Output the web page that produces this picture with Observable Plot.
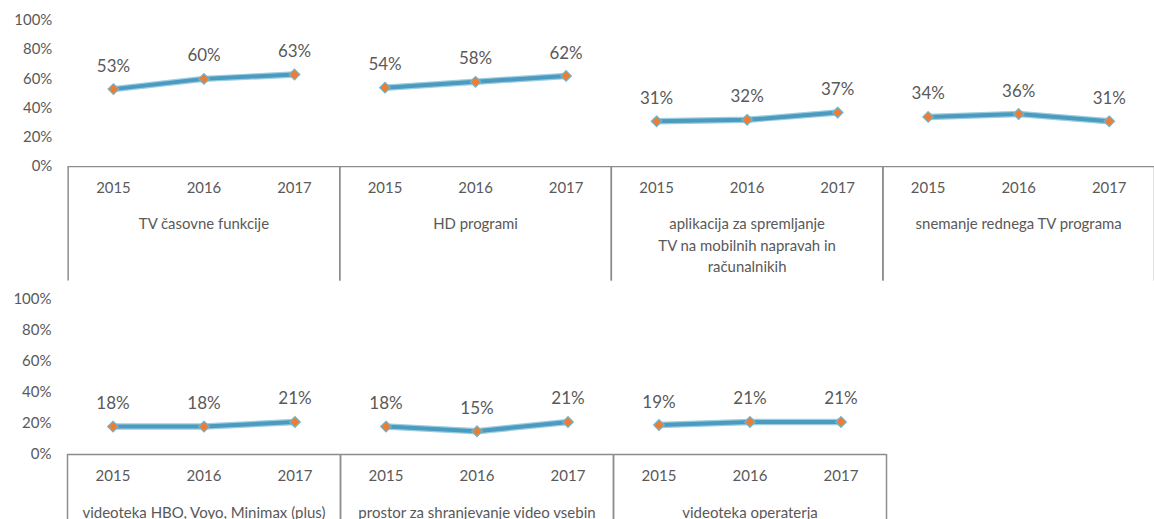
<!DOCTYPE html>
<html>
<head>
<meta charset="utf-8">
<script src="https://cdn.jsdelivr.net/npm/d3@7"></script>
<script src="https://cdn.jsdelivr.net/npm/@observablehq/plot@0.6"></script>
<style>
  html, body { margin: 0; padding: 0; background: #fff; overflow: hidden; }
  #chart svg { display: block; }
</style>
</head>
<body>
<div id="chart"></div>
<script>
const years = [2015, 2016, 2017];
const yTicks = [0, 20, 40, 60, 80, 100];

const topGroups = [
  "TV časovne funkcije",
  "HD programi",
  "aplikacija za spremljanje\nTV na mobilnih napravah in\nračunalnikih",
  "snemanje rednega TV programa"
];
const topValues = [
  [53, 60, 63],
  [54, 58, 62],
  [31, 32, 37],
  [34, 36, 31]
];

const bottomGroups = [
  "videoteka HBO, Voyo, Minimax (plus)",
  "prostor za shranjevanje video vsebin",
  "videoteka operaterja"
];
const bottomValues = [
  [18, 18, 21],
  [18, 15, 21],
  [19, 21, 21]
];

const textColor = "#595959";
const lineColor = "#4a9bbf";
const haloColor = "#9dcde0";
const markerColor = "#ed7d31";
const axisColor = "#8c8c8c";

function toRows(groups, values) {
  const rows = [];
  groups.forEach((g, gi) => years.forEach((y, yi) => rows.push({group: g, year: y, value: values[gi][yi]})));
  return rows;
}

function panel(groups, values, opts) {
  const rows = toRows(groups, values);
  const {width, height, marginTop, marginBottom, marginLeft, marginRight} = opts;
  const plotH = height - marginTop - marginBottom;
  const bounds = [years[0] - 0.5, years[years.length - 1] + 0.5];
  return Plot.plot({
    width, height, marginTop, marginBottom, marginLeft, marginRight,
    style: {fontFamily: "Lato, 'Open Sans', sans-serif", fontSize: "15px", color: textColor, background: "#fff", overflow: "visible"},
    fx: {domain: groups, padding: 0, axis: null, label: null},
    x: {type: "linear", domain: bounds, axis: null, label: null},
    y: {domain: [0, 100], axis: null, label: null},
    marks: [
      Plot.axisY({ticks: yTicks, tickFormat: d => d + "%", tickSize: 0, tickPadding: 16, fill: textColor, fontSize: 15, label: null}),
      Plot.ruleY([0], {stroke: axisColor, strokeWidth: 1.5}),
      Plot.ruleX(bounds, {stroke: axisColor, strokeWidth: 1.5, insetTop: plotH, insetBottom: -marginBottom}),
      Plot.axisX({ticks: years, tickFormat: d => String(d), tickSize: 0, tickPadding: 16, fill: textColor, fontSize: 15, label: null}),
      Plot.axisFx({anchor: "bottom", tickSize: 0, tickPadding: 48, fill: textColor, fontSize: 15, lineHeight: 1.42, label: null}),
      Plot.line(rows, {fx: "group", x: "year", y: "value", stroke: haloColor, strokeWidth: 6.5}),
      Plot.line(rows, {fx: "group", x: "year", y: "value", stroke: lineColor, strokeWidth: 4}),
      Plot.dot(rows, {fx: "group", x: "year", y: "value", symbol: "diamond2", r: 4.8, fill: markerColor, stroke: "#6fb3d1", strokeWidth: 1.2}),
      Plot.text(rows, {fx: "group", x: "year", y: "value", text: d => d.value + "%", dy: -23, fontSize: 17, fill: textColor})
    ]
  });
}

const chart = document.getElementById("chart");
chart.append(panel(topGroups, topValues, {width: 1160, height: 282, marginTop: 20, marginBottom: 115, marginLeft: 67, marginRight: 0}));
chart.append(panel(bottomGroups, bottomValues, {width: 1154, height: 240, marginTop: 18, marginBottom: 67, marginLeft: 67, marginRight: 268}));
</script>
</body>
</html>
